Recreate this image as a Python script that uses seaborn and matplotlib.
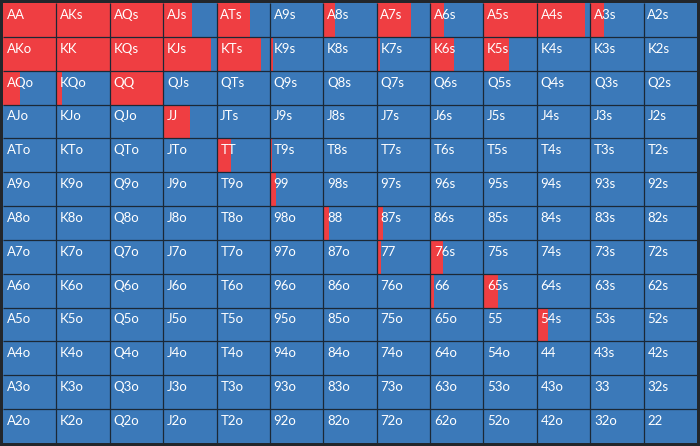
import numpy as np
import matplotlib
matplotlib.use("Agg")
import matplotlib.pyplot as plt
from matplotlib.colors import ListedColormap
import seaborn as sns

# Hand ranks, rows/cols in this order
ranks = ["A", "K", "Q", "J", "T", "9", "8", "7", "6", "5", "4", "3", "2"]

# Fraction of each cell filled red (left part), row by row
row_A = [1.0, 1.0, 1.0, 0.54, 0.62, 0.0, 0.22, 0.65, 0.26, 1.0, 0.9, 0.25, 0.0]
row_K = [1.0, 1.0, 1.0, 0.9, 0.84, 0.06, 0.0, 0.06, 0.45, 0.47, 0.0, 0.0, 0.0]
row_Q = [0.32, 0.11, 1.0, 0.0, 0.0, 0.0, 0.0, 0.0, 0.0, 0.0, 0.0, 0.0, 0.0]
row_J = [0.0, 0.0, 0.0, 0.5, 0.0, 0.0, 0.0, 0.0, 0.0, 0.0, 0.0, 0.0, 0.0]
row_T = [0.0, 0.0, 0.0, 0.0, 0.28, 0.03, 0.0, 0.0, 0.0, 0.0, 0.0, 0.0, 0.0]
row_9 = [0.0, 0.0, 0.0, 0.0, 0.0, 0.11, 0.0, 0.0, 0.0, 0.0, 0.0, 0.0, 0.0]
row_8 = [0.0, 0.0, 0.0, 0.0, 0.0, 0.0, 0.11, 0.12, 0.0, 0.0, 0.0, 0.0, 0.0]
row_7 = [0.0, 0.0, 0.0, 0.0, 0.0, 0.0, 0.0, 0.08, 0.25, 0.0, 0.0, 0.0, 0.0]
row_6 = [0.0, 0.0, 0.0, 0.0, 0.0, 0.0, 0.0, 0.0, 0.07, 0.27, 0.0, 0.0, 0.0]
row_5 = [0.0, 0.0, 0.0, 0.0, 0.0, 0.0, 0.0, 0.0, 0.0, 0.0, 0.2, 0.0, 0.0]
row_4 = [0.0] * 13
row_3 = [0.0] * 13
row_2 = [0.0] * 13

fractions = np.array([row_A, row_K, row_Q, row_J, row_T, row_9, row_8,
                      row_7, row_6, row_5, row_4, row_3, row_2])

blue = "#3b79b9"
red = "#ef3e42"
line_col = "#1b2836"

n = len(ranks)

fig = plt.figure(figsize=(7, 4.46), dpi=100)
fig.patch.set_facecolor("#22262b")
ax = fig.add_axes([3 / 700, 3 / 446, 694 / 700, 440 / 446])

# blue background cells
sns.heatmap(np.zeros((n, n)), cmap=ListedColormap([blue]), cbar=False,
            ax=ax, xticklabels=False, yticklabels=False)

# red part of each cell
for i in range(n):
    ax.barh(np.arange(n)[i] + 0.5, fractions[i], left=np.arange(n),
            height=1.0, color=red, linewidth=0, align="center")

# grid lines
ax.hlines(np.arange(1, n), 0, n, color=line_col, linewidth=0.9)
ax.vlines(np.arange(1, n), 0, n, color=line_col, linewidth=0.9)

# hand labels
for i in range(n):
    for j in range(n):
        if i == j:
            lab = ranks[i] + ranks[j]
        elif j > i:
            lab = ranks[i] + ranks[j] + "s"
        else:
            lab = ranks[j] + ranks[i] + "o"
        ax.text(j + 0.07, i + 0.35, lab, color="white", fontsize=9.5,
                family="Lato", ha="left", va="center")

ax.set_xlim(0, n)
ax.set_ylim(n, 0)
for s in ax.spines.values():
    s.set_visible(False)

plt.savefig("out.png", dpi=100, facecolor=fig.get_facecolor())
